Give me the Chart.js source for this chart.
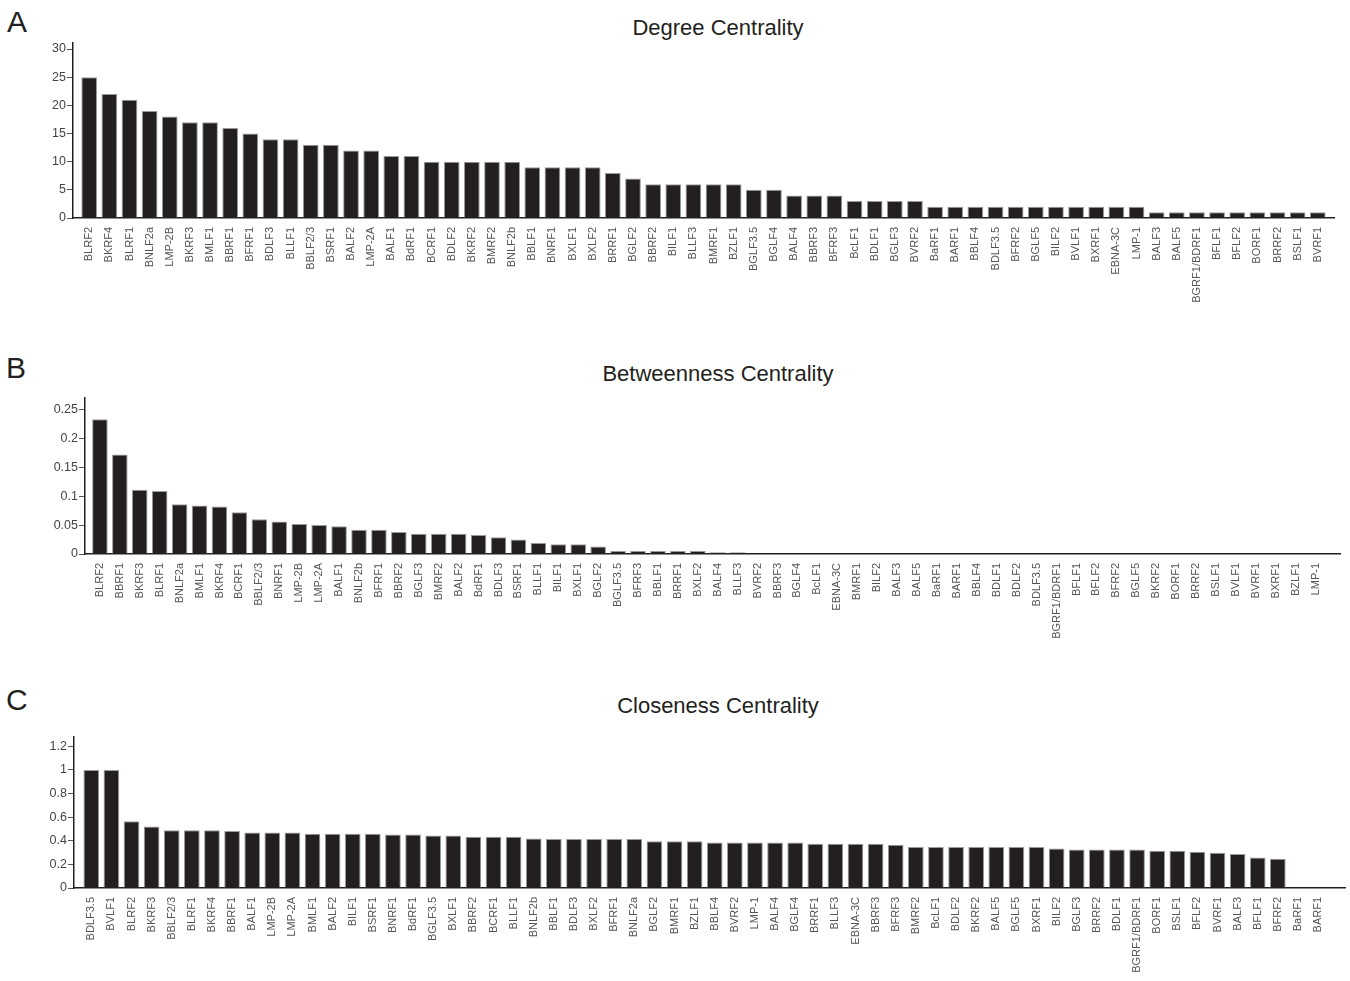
<!DOCTYPE html>
<html><head><meta charset="utf-8">
<script src="https://cdn.jsdelivr.net/npm/chart.js@4/dist/chart.umd.min.js"></script>
<style>
html,body{margin:0;padding:0;background:#fff;}
body{width:1350px;height:981px;position:relative;overflow:hidden;font-family:"Liberation Sans",Arial,sans-serif;}
.letter{position:absolute;font-size:30px;line-height:1;color:#231f20;}
.title{position:absolute;font-size:22px;line-height:1;color:#231f20;width:500px;text-align:center;left:468px;}
canvas{position:absolute;left:0;}
</style></head><body>
<div class="letter" style="left:7px;top:7px;">A</div>
<div class="title" style="top:17px;">Degree Centrality</div>
<canvas id="cA" width="1350" height="310" style="top:0px;"></canvas>
<div class="letter" style="left:6px;top:353px;">B</div>
<div class="title" style="top:363px;">Betweenness Centrality</div>
<canvas id="cB" width="1350" height="320" style="top:330px;"></canvas>
<div class="letter" style="left:6px;top:685px;">C</div>
<div class="title" style="top:695px;">Closeness Centrality</div>
<canvas id="cC" width="1350" height="311" style="top:670px;"></canvas>
<script>
const degreeLabels = ["BLRF2","BKRF4","BLRF1","BNLF2a","LMP-2B","BKRF3","BMLF1","BBRF1","BFRF1","BDLF3","BLLF1","BBLF2/3","BSRF1","BALF2","LMP-2A","BALF1","BdRF1","BCRF1","BDLF2","BKRF2","BMRF2","BNLF2b","BBLF1","BNRF1","BXLF1","BXLF2","BRRF1","BGLF2","BBRF2","BILF1","BLLF3","BMRF1","BZLF1","BGLF3.5","BGLF4","BALF4","BBRF3","BFRF3","BcLF1","BDLF1","BGLF3","BVRF2","BaRF1","BARF1","BBLF4","BDLF3.5","BFRF2","BGLF5","BILF2","BVLF1","BXRF1","EBNA-3C","LMP-1","BALF3","BALF5","BGRF1/BDRF1","BFLF1","BFLF2","BORF1","BRRF2","BSLF1","BVRF1"];
const degreeValues = [25,22,21,19,18,17,17,16,15,14,14,13,13,12,12,11,11,10,10,10,10,10,9,9,9,9,8,7,6,6,6,6,6,5,5,4,4,4,3,3,3,3,2,2,2,2,2,2,2,2,2,2,2,1,1,1,1,1,1,1,1,1];

const betweennessLabels = ["BLRF2","BBRF1","BKRF3","BLRF1","BNLF2a","BMLF1","BKRF4","BCRF1","BBLF2/3","BNRF1","LMP-2B","LMP-2A","BALF1","BNLF2b","BFRF1","BBRF2","BGLF3","BMRF2","BALF2","BdRF1","BDLF3","BSRF1","BLLF1","BILF1","BXLF1","BGLF2","BGLF3.5","BFRF3","BBLF1","BRRF1","BXLF2","BALF4","BLLF3","BVRF2","BBRF3","BGLF4","BcLF1","EBNA-3C","BMRF1","BILF2","BALF3","BALF5","BaRF1","BARF1","BBLF4","BDLF1","BDLF2","BDLF3.5","BGRF1/BDRF1","BFLF1","BFLF2","BFRF2","BGLF5","BKRF2","BORF1","BRRF2","BSLF1","BVLF1","BVRF1","BXRF1","BZLF1","LMP-1"];
const betweennessValues = [0.233,0.172,0.111,0.109,0.086,0.084,0.082,0.072,0.060,0.056,0.052,0.050,0.048,0.042,0.042,0.038,0.035,0.035,0.035,0.033,0.029,0.025,0.019,0.017,0.017,0.013,0.005,0.005,0.005,0.005,0.005,0.003,0.003,0.001,0.001,0.001,0.001,0.001,0.001,0.001,0,0,0,0,0,0,0,0,0,0,0,0,0,0,0,0,0,0,0,0,0,0];

const closenessLabels = ["BDLF3.5","BVLF1","BLRF2","BKRF3","BBLF2/3","BLRF1","BKRF4","BBRF1","BALF1","LMP-2B","LMP-2A","BMLF1","BALF2","BILF1","BSRF1","BNRF1","BdRF1","BGLF3.5","BXLF1","BBRF2","BCRF1","BLLF1","BNLF2b","BBLF1","BDLF3","BXLF2","BFRF1","BNLF2a","BGLF2","BMRF1","BZLF1","BBLF4","BVRF2","LMP-1","BALF4","BGLF4","BRRF1","BLLF3","EBNA-3C","BBRF3","BFRF3","BMRF2","BcLF1","BDLF2","BKRF2","BALF5","BGLF5","BXRF1","BILF2","BGLF3","BRRF2","BDLF1","BGRF1/BDRF1","BORF1","BSLF1","BFLF2","BVRF1","BALF3","BFLF1","BFRF2","BaRF1","BARF1"];
const closenessValues = [1,1,0.565,0.52,0.49,0.49,0.49,0.482,0.47,0.47,0.47,0.46,0.46,0.46,0.46,0.454,0.454,0.445,0.445,0.434,0.434,0.434,0.42,0.414,0.414,0.414,0.414,0.414,0.395,0.395,0.395,0.386,0.386,0.386,0.386,0.386,0.375,0.375,0.375,0.375,0.366,0.347,0.347,0.347,0.347,0.347,0.347,0.347,0.335,0.326,0.326,0.326,0.326,0.316,0.316,0.307,0.299,0.287,0.259,0.248,0,0];

const FONT = '"Liberation Sans", Arial, sans-serif';
const fmt = v => String(Math.round(v * 100) / 100);

function makePanel(id, labels, values, o) {
  new Chart(document.getElementById(id), {
    type: 'bar',
    data: { labels: labels, datasets: [{ data: values, backgroundColor: '#231f20', borderColor: '#9a9a9a', borderWidth: 1, barPercentage: 0.78, categoryPercentage: 1 }] },
    options: {
      responsive: false, animation: false, devicePixelRatio: 1,
      layout: { padding: { top: o.padTop, right: o.padRight, left: 0, bottom: 0 } },
      plugins: { legend: { display: false }, tooltip: { enabled: false }, title: { display: false } },
      scales: {
        x: {
          offset: true,
          afterBuildTicks: s => { s._startValue = o.startValue; s._valueRange = o.valueRange; },
          afterFit: s => { s.height = o.xHeight; },
          grid: { display: false, drawTicks: false },
          border: { display: true, color: '#231f20', width: 1.5 },
          ticks: { autoSkip: false, minRotation: 90, maxRotation: 90, padding: 9, color: '#555', font: { family: FONT, size: 11 } }
        },
        y: {
          min: 0, max: o.max,
          afterFit: s => { s.width = o.yWidth; },
          grid: { display: true, drawOnChartArea: false, drawTicks: true, tickLength: 6, color: '#555', lineWidth: 1 },
          border: { display: true, color: '#231f20', width: 1.5 },
          ticks: { stepSize: o.step, includeBounds: false, padding: 1, color: '#444', font: { family: FONT, size: 12.5 }, callback: v => fmt(v) }
        }
      }
    }
  });
}

makePanel('cA', degreeLabels, degreeValues, { padTop: 43, padRight: 16, yWidth: 73, xHeight: 92, max: 31.07, step: 5, startValue: -0.804, valueRange: 62.61 });
makePanel('cB', betweennessLabels, betweennessValues, { padTop: 68, padRight: 10, yWidth: 85, xHeight: 96, max: 0.2696, step: 0.05, startValue: -0.748, valueRange: 62.97 });
makePanel('cC', closenessLabels, closenessValues, { padTop: 67, padRight: 5, yWidth: 74, xHeight: 93, max: 1.279, step: 0.2, startValue: -0.86, valueRange: 63.2 });
</script>
</body></html>
